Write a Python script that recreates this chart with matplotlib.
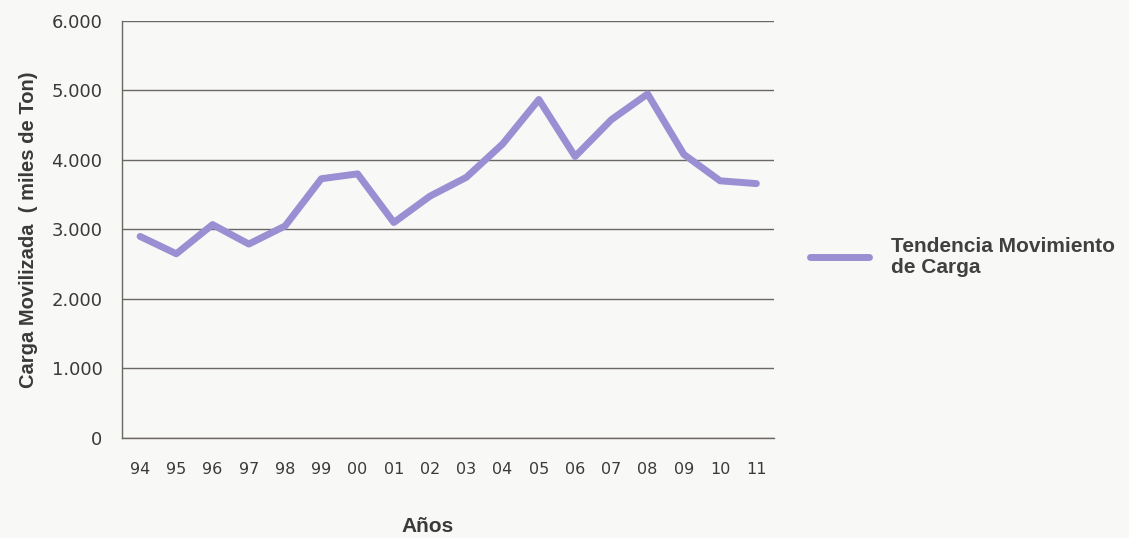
import numpy as np
import matplotlib
matplotlib.use('agg')
import matplotlib.pyplot as plt

# datos
anios = ['94', '95', '96', '97', '98', '99', '00', '01', '02',
         '03', '04', '05', '06', '07', '08', '09', '10', '11']
carga = [2900, 2650, 3070, 2790, 3050, 3730, 3800, 3100, 3480,
         3750, 4230, 4870, 4050, 4580, 4950, 4080, 3700, 3660]
yticks = [0, 1000, 2000, 3000, 4000, 5000, 6000]
ylabels = ['0', '1.000', '2.000', '3.000', '4.000', '5.000', '6.000']

bg = '#f8f8f6'
txt = '#3a3a3a'
fig = plt.figure(figsize=[11.29, 5.38], dpi=100, facecolor=bg)
ax = fig.add_axes([0.108, 0.186, 0.578, 0.775])
ax.set_facecolor(bg)

x = np.arange(len(anios))
ln, = ax.plot(x, carga, color='#9a8fd3', linewidth=5, solid_capstyle='round',
              solid_joinstyle='round', label='Tendencia Movimiento\nde Carga')

ax.set_xlim(-0.5, len(anios) - 0.5)
ax.set_ylim(0, 6000)
ax.set_yticks(yticks)
ax.set_yticklabels(ylabels, fontsize=13, color=txt, family='DejaVu Sans')
ax.set_xticks(x)
ax.set_xticklabels(anios, fontsize=11.5, color=txt, family='DejaVu Sans')
ax.tick_params(length=0, pad=17, axis='x')
ax.tick_params(length=0, pad=14, axis='y')
ax.grid(axis='y', color='#6b6763', linewidth=1)
ax.set_axisbelow(True)
for s in ['top', 'right']:
    ax.spines[s].set_visible(False)
for s in ['left', 'bottom']:
    ax.spines[s].set_color('#6b6763')
    ax.spines[s].set_linewidth(1)

ax.set_ylabel('Carga Movilizada  ( miles de Ton)', fontsize=14.5, fontweight='bold',
              family='Liberation Sans', color=txt, labelpad=10)
# titulo del eje x pegado al borde inferior, como en la imagen
fig.text(428 / 1129, 0.003, 'Años', ha='center', va='bottom', fontsize=15,
         fontweight='bold', family='Liberation Sans', color=txt)

leg = fig.legend(handles=[ln], loc='center left', bbox_to_anchor=(0.701, 0.522),
                 frameon=False, handlelength=2.8, handletextpad=1.06,
                 prop={'family': 'Liberation Sans', 'weight': 'bold', 'size': 15})
for t in leg.get_texts():
    t.set_color('#404040')
    t.set_linespacing(1.1)

fig.savefig('out.png', dpi=100, facecolor=bg)
